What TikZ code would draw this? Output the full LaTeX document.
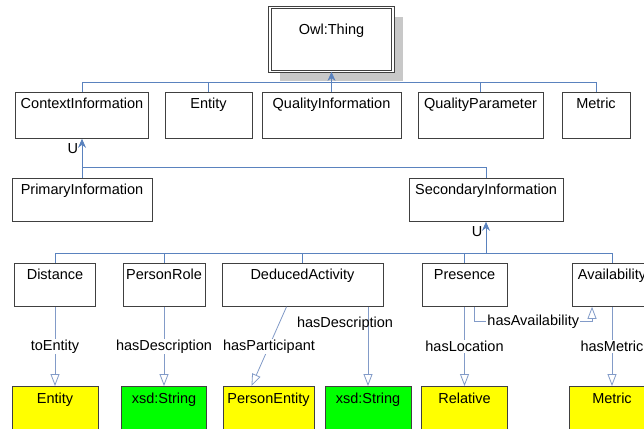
\documentclass[tikz,border=0pt]{standalone}
\usepackage{fontspec}
\setmainfont{Liberation Sans}
\usepackage{xcolor}
\usepackage{tikz}
\usetikzlibrary{arrows.meta, shadows}

\definecolor{boxgray}{RGB}{64,64,64}
\definecolor{shadowgray}{RGB}{200,200,200}
\definecolor{linkblue}{RGB}{90,130,190}
\definecolor{propblue}{RGB}{130,155,200}
\definecolor{conyellow}{RGB}{255,255,0}
\definecolor{dtgreen}{RGB}{0,255,0}

\begin{document}
\begin{tikzpicture}[
    x=1pt, y=-1pt,
    every node/.style={font=\fontsize{14.5}{17}\selectfont, align=center},
    cls/.style={rectangle, draw=boxgray, line width=0.8pt, anchor=north,
                inner xsep=2pt, inner ysep=0pt, text height=16pt,
                text depth=27pt, minimum width=#1},
    toprow/.style={text depth=30pt},
    rangebox/.style={text height=17pt, text depth=40pt},
    thing/.style={rectangle, draw=boxgray, line width=0.9pt, double=white,
                  double distance=1.6pt, anchor=north, inner ysep=0pt,
                  text height=27pt, text depth=37pt, minimum width=123pt,
                  fill=white,
                  drop shadow={shadow xshift=10pt, shadow yshift=-10pt,
                               fill=shadowgray, opacity=1}},
    bus/.style={draw=linkblue, line width=0.8pt},
    inh/.style={draw=linkblue, line width=0.9pt,
                -{Stealth[length=9pt, width=8pt]}},
    prop/.style={draw=propblue, line width=0.8pt,
                 -{Triangle[open, length=12pt, width=9pt]}},
    lbl/.style={fill=white, inner sep=1pt}
]
\path [use as bounding box, fill=white] (0,0) rectangle (644,428);
\clip (0,0) rectangle (644,428);

\coordinate (bus1) at (0,82);
\coordinate (bus2) at (0,167);
\coordinate (bus3) at (0,253);

\node (owl)   [thing]                at (331.5,7)  {Owl:Thing};

\node (ctx)   [cls=133pt, toprow]    at (82,92)    {ContextInformation};
\node (ent)   [cls=87pt, toprow]     at (208.5,92) {Entity};
\node (qinfo) [cls=139pt, toprow]    at (331.5,92) {QualityInformation};
\node (qpar)  [cls=125pt, toprow]    at (480.5,92) {QualityParameter};
\node (met)   [cls=68pt, toprow]     at (596,92)   {Metric};

\node (prim)  [cls=140pt]            at (82,178)   {PrimaryInformation};
\node (sec)   [cls=154pt]            at (486,178)  {SecondaryInformation};

\node (dist)  [cls=81pt]             at (55,263)    {Distance};
\node (prole) [cls=82pt]             at (164,263)   {PersonRole};
\node (dact)  [cls=161pt]            at (302.5,263) {DeducedActivity};
\node (pres)  [cls=85pt]             at (464.5,263) {Presence};
\node (avail) [cls=80pt]             at (612,263)   {Availability};

\node (ent2)  [cls=86pt, rangebox, fill=conyellow] at (55,386)    {Entity};
\node (str1)  [cls=85pt, rangebox, fill=dtgreen]   at (164,386)   {xsd:String};
\node (pent)  [cls=91pt, rangebox, fill=conyellow] at (268.5,386) {PersonEntity};
\node (str2)  [cls=86pt, rangebox, fill=dtgreen]   at (368,386)   {xsd:String};
\node (rel)   [cls=86pt, rangebox, fill=conyellow] at (464.5,386) {Relative};
\node (met2)  [cls=86pt, rangebox, fill=conyellow] at (612,386)   {Metric};

% subclass tree
\draw [inh] (qinfo.north) -- (owl.south);
\draw [bus] (ctx.north) -- (ctx.north |- bus1) -- (met.north |- bus1) -- (met.north);
\draw [bus] (ent.north) -- (ent.north |- bus1);
\draw [bus] (qpar.north) -- (qpar.north |- bus1);

\draw [inh] (prim.north) -- (ctx.south) node[pos=0.75, left] {U};
\draw [bus] (prim.north |- bus2) -- (sec.north |- bus2) -- (sec.north);

\draw [inh] (sec.south |- bus3) -- (sec.south) node[pos=0.7, left] {U};
\draw [bus] (dist.north) -- (dist.north |- bus3) -- (avail.north |- bus3) -- (avail.north);
\draw [bus] (prole.north) -- (prole.north |- bus3);
\draw [bus] (dact.north) -- (dact.north |- bus3);
\draw [bus] (pres.north) -- (pres.north |- bus3);

% properties
\draw [prop] (dist.south) -- (ent2.north) node[lbl, pos=0.5] {toEntity};
\draw [prop] (prole.south) -- (str1.north) node[lbl, pos=0.5] {hasDescription};
\draw [prop] ([xshift=-16pt]dact.south) -- ([xshift=-17pt]pent.north)
    node[lbl, pos=0.5] {hasParticipant};
\draw [prop] (str2.north |- dact.south) -- (str2.north)
    node[pos=0.22, xshift=-23pt] {hasDescription};
\draw [prop] (pres.south) -- (rel.north) node[lbl, pos=0.5] {hasLocation};
\draw [prop] ([xshift=10pt]pres.south) -- ++(0,15) -| ([xshift=-20pt]avail.south)
    node[lbl, pos=0.25] {hasAvailability};
\draw [prop] (avail.south) -- (met2.north) node[lbl, pos=0.5] {hasMetric};
\end{tikzpicture}
\end{document}
